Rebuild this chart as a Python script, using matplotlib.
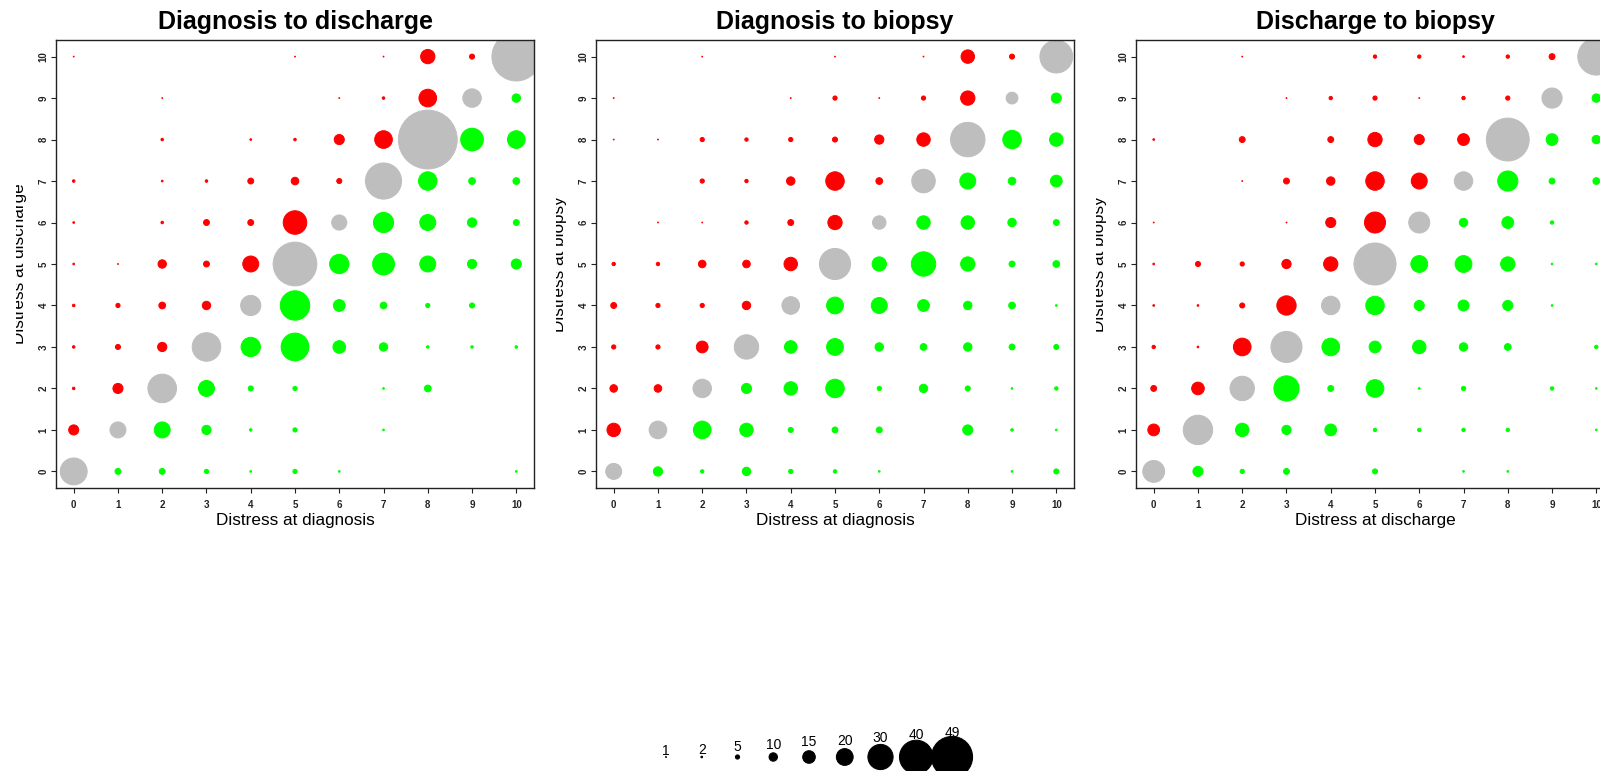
import matplotlib
matplotlib.use('Agg')
import matplotlib.pyplot as plt
import numpy as np
from matplotlib.transforms import Bbox, TransformedBbox

plt.rcParams['font.family'] = ['Liberation Sans', 'DejaVu Sans']

# counts per cell, rows from distress 10 (top) down to 0, columns 0..10
diag_discharge = [
    [1, 0, 0, 0, 0, 1, 0, 1, 17, 6, 58],
    [0, 0, 1, 0, 0, 0, 1, 3, 21, 22, 10],
    [0, 0, 3, 0, 2, 3, 12, 21, 70, 27, 21],
    [3, 0, 2, 3, 7, 9, 6, 43, 22, 8, 8],
    [2, 0, 3, 7, 7, 28, 18, 24, 19, 11, 7],
    [2, 1, 10, 7, 19, 52, 23, 26, 19, 11, 12],
    [3, 5, 8, 10, 24, 35, 14, 8, 5, 6, 0],
    [3, 6, 11, 34, 23, 33, 15, 10, 3, 3, 3],
    [3, 12, 34, 19, 6, 5, 0, 2, 8, 0, 0],
    [12, 19, 19, 11, 3, 5, 0, 2, 0, 0, 0],
    [32, 7, 7, 5, 2, 5, 2, 0, 0, 0, 2],
]

diag_biopsy = [
    [0, 0, 1, 0, 0, 1, 0, 1, 16, 6, 39],
    [1, 0, 0, 0, 1, 5, 1, 5, 17, 14, 12],
    [1, 1, 5, 4, 5, 6, 11, 16, 41, 22, 16],
    [0, 0, 5, 4, 10, 22, 8, 28, 19, 9, 14],
    [0, 1, 1, 4, 7, 17, 16, 16, 16, 10, 7],
    [4, 4, 9, 9, 16, 37, 17, 29, 17, 7, 8],
    [7, 5, 5, 10, 21, 20, 19, 14, 10, 8, 2],
    [5, 5, 14, 29, 15, 20, 10, 8, 10, 7, 6],
    [9, 9, 22, 12, 16, 22, 5, 10, 6, 2, 4],
    [16, 21, 21, 16, 6, 7, 7, 0, 12, 3, 2],
    [19, 11, 4, 10, 5, 4, 2, 0, 0, 2, 6],
]

discharge_biopsy = [
    [0, 0, 1, 0, 0, 4, 4, 2, 4, 7, 44],
    [0, 0, 0, 1, 4, 5, 1, 4, 5, 24, 10],
    [2, 0, 7, 0, 7, 17, 12, 14, 51, 14, 10],
    [0, 0, 1, 7, 10, 22, 19, 22, 24, 7, 8],
    [1, 0, 0, 1, 12, 25, 25, 10, 14, 4, 0],
    [2, 6, 5, 11, 17, 50, 20, 20, 17, 2, 2],
    [2, 2, 6, 23, 22, 22, 12, 13, 12, 2, 0],
    [4, 2, 21, 37, 21, 14, 16, 10, 8, 0, 4],
    [7, 15, 29, 30, 7, 21, 2, 5, 0, 4, 2],
    [14, 35, 16, 11, 14, 4, 4, 4, 4, 0, 2],
    [26, 12, 5, 7, 0, 6, 0, 2, 2, 0, 0],
]

panels = [
    ("Diagnosis to discharge", "Distress at diagnosis", "Distress at discharge", diag_discharge),
    ("Diagnosis to biopsy", "Distress at diagnosis", "Distress at biopsy", diag_biopsy),
    ("Discharge to biopsy", "Distress at discharge", "Distress at biopsy", discharge_biopsy),
]
scores = list(range(11))
legend_values = [1, 2, 5, 10, 15, 20, 30, 40, 49]

RED = '#FF0000'
GREEN = '#00FF00'
GREY = '#BEBEBE'

W, H = 1600, 771
DPI = 100
PX_PER_COUNT = 0.84
EDGE_PT = 0.72  # circles get a 1px outline in their own colour, like R's symbols()


def marker_area(counts):
    d_pt = PX_PER_COUNT * np.asarray(counts, dtype=float) * 72 / DPI
    return d_pt ** 2


fig = plt.figure(figsize=(W / DPI, H / DPI), dpi=DPI)
fig.patch.set_facecolor('white')

for i, (title, xlab, ylab, table) in enumerate(panels):
    region_left = 16 + 540 * i
    left = region_left + 40
    ax = fig.add_axes([left / W, (H - 488) / H, 478 / W, 448 / H])

    grid = np.array(table)[::-1]
    ys, xs = np.nonzero(grid)
    n = grid[ys, xs]
    order = np.argsort(-n, kind='stable')
    xs, ys, n = xs[order], ys[order], n[order]
    colors = np.where(ys > xs, RED, np.where(ys == xs, GREY, GREEN))
    ax.scatter(xs, ys, s=marker_area(n), c=colors, edgecolors=colors,
               linewidths=EDGE_PT)

    ax.set_xlim(-0.4, 10.4)
    ax.set_ylim(-0.4, 10.4)
    ax.set_xticks(scores)
    ax.set_yticks(scores)
    ax.set_xticklabels([str(s) for s in scores], fontsize=7, fontweight='bold')
    ax.set_yticklabels([str(s) for s in scores], fontsize=7, fontweight='bold',
                       rotation=90, va='center')
    ax.tick_params(axis='x', length=3.6, width=0.8, pad=5, colors='#222222')
    ax.tick_params(axis='y', length=3.6, width=0.8, pad=1.7, colors='#222222')
    for sp in ax.spines.values():
        sp.set_color('#222222')
        sp.set_linewidth(1.0)

    ax.set_title(title, fontsize=18, fontweight='bold', pad=8)
    ax.set_xlabel(xlab, fontsize=12.3)
    ax.xaxis.set_label_coords(0.5, -0.056)
    ax.set_ylabel(ylab, fontsize=12.3)
    ax.yaxis.set_label_coords(-0.061, 0.5)

    # R clips text to each panel's figure region
    clip = TransformedBbox(Bbox.from_extents(region_left / W, 0,
                                             (region_left + 540) / W, 1),
                           fig.transFigure)
    ax.yaxis.label.set_clip_box(clip)
    ax.yaxis.label.set_clip_on(True)

# size legend along the bottom, drawn in pixel coordinates
lax = fig.add_axes([0, 0, 1, 1])
lax.set_xlim(0, W)
lax.set_ylim(H, 0)
lax.axis('off')
lx = 666 + 35.75 * np.arange(len(legend_values))
ly = np.full(len(legend_values), 757.0)
lax.scatter(lx, ly, s=marker_area(legend_values), c='black', edgecolors='black',
            linewidths=EDGE_PT)
for x, v in zip(lx, legend_values):
    lax.text(x, 758 - 3 * np.sqrt(v), str(v), ha='center', va='baseline', fontsize=10)

fig.savefig('out.png', dpi=DPI)
